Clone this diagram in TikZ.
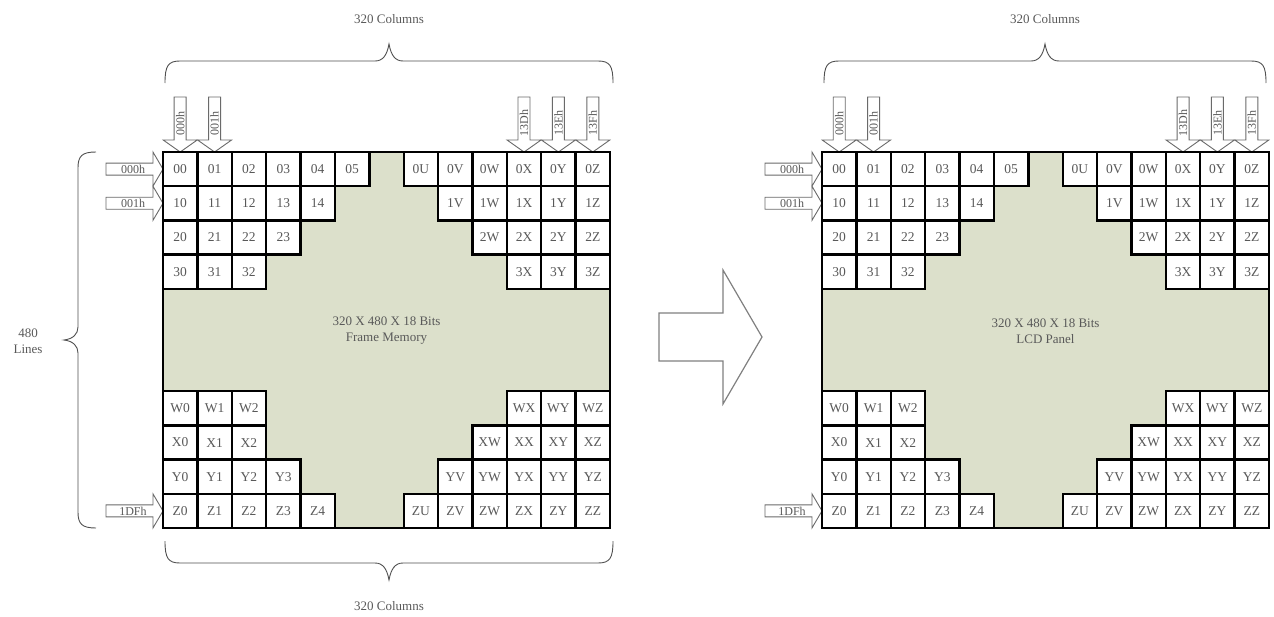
\documentclass[tikz,border=0pt]{standalone}
\usepackage{fontspec}
\setmainfont{Liberation Serif}
\definecolor{memfill}{HTML}{DCE0CB}
\definecolor{txt}{HTML}{595959}
\definecolor{brc}{HTML}{505050}
\definecolor{arw}{HTML}{6A6A6A}
\tikzset{
  cell/.style={draw=black, fill=white, line width=2.4pt, minimum width=34.385pt,
    minimum height=34.182pt, inner sep=0pt, text=txt, font=\fontsize{13.5}{14}\selectfont},
  frame/.style={draw=black, line width=2.4pt},
  blockarrow/.style={draw=arw, fill=white, line width=0.9pt, line join=miter},
  arrowlabel/.style={inner sep=0pt, text=txt, font=\fontsize{12}{12}\selectfont},
  bracestyle/.style={draw=brc, line width=0.9pt},
  caption/.style={inner sep=0pt, text=txt, font=\fontsize{13}{16}\selectfont, align=center},
  bigarrow/.style={draw=gray, fill=white, line width=1.2pt, line join=miter},
}
\newcommand\memgrid[3]{%
  % #1 prefix, #2 left x, #3 second text line
  \foreach \c/\t in {0/000h,1/001h,10/13Dh,11/13Eh,12/13Fh}{
    \pgfmathsetmacro\cx{#2+(\c+0.5)*34.385}
    \draw[blockarrow] (\cx-6,97) -- (\cx+6,97) -- (\cx+6,140) -- (\cx+17,140) -- (\cx,152)
      -- (\cx-17,140) -- (\cx-6,140) -- cycle;
    \node[arrowlabel, rotate=90] (#1top\c) at (\cx,123) {\t};
  }
  \foreach \r/\t in {0/000h,1/001h,10/1DFh}{
    \pgfmathsetmacro\cy{152+(\r+0.5)*34.182}
    \draw[blockarrow] (#2-57,\cy-6) -- (#2-10,\cy-6) -- (#2-10,\cy-17) -- (#2,\cy)
      -- (#2-10,\cy+17) -- (#2-10,\cy+6) -- (#2-57,\cy+6) -- cycle;
    \node[arrowlabel] (#1left\r) at (#2-30,\cy) {\t};
  }
  \fill[memfill] (#2,152) rectangle ++(447,376);
  \foreach \c/\r/\t in {0/0/00,1/0/01,2/0/02,3/0/03,4/0/04,5/0/05,
      7/0/0U,8/0/0V,9/0/0W,10/0/0X,11/0/0Y,12/0/0Z,
      0/1/10,1/1/11,2/1/12,3/1/13,4/1/14,8/1/1V,9/1/1W,10/1/1X,11/1/1Y,12/1/1Z,
      0/2/20,1/2/21,2/2/22,3/2/23,9/2/2W,10/2/2X,11/2/2Y,12/2/2Z,
      0/3/30,1/3/31,2/3/32,10/3/3X,11/3/3Y,12/3/3Z,
      0/7/W0,1/7/W1,2/7/W2,10/7/WX,11/7/WY,12/7/WZ,
      0/8/X0,1/8/X1,2/8/X2,9/8/XW,10/8/XX,11/8/XY,12/8/XZ,
      0/9/Y0,1/9/Y1,2/9/Y2,3/9/Y3,8/9/YV,9/9/YW,10/9/YX,11/9/YY,12/9/YZ,
      0/10/Z0,1/10/Z1,2/10/Z2,3/10/Z3,4/10/Z4,7/10/ZU,8/10/ZV,9/10/ZW,10/10/ZX,11/10/ZY,12/10/ZZ}{
    \node[cell] (#1\t) at ({#2+(\c+0.5)*34.385},{152+(\r+0.5)*34.182}) {\t};
  }
  \draw[frame] (#2,152) rectangle ++(447,376);
  \node[caption] (#1caption) at ({#2+223.5},331) {320 X 480 X 18 Bits\\#3};
}
\begin{document}
\begin{tikzpicture}[x=1pt,y=-1pt]
\useasboundingbox (0,0) rectangle (1274,616);

\memgrid{L}{163}{Frame Memory}
\memgrid{R}{822}{LCD Panel}

% top braces
\draw[bracestyle] (165,83) .. controls (165,66) and (168,61) .. (180,61) -- (375,61)
  .. controls (383,61) and (387,55) .. (389,44) .. controls (391,55) and (395,61) .. (403,61)
  -- (598,61) .. controls (610,61) and (613,66) .. (613,83);
\node[caption] (topcolsL) at (389,19) {320 Columns};
\draw[bracestyle] (824,83) .. controls (824,66) and (827,61) .. (839,61) -- (1031,61)
  .. controls (1039,61) and (1043,55) .. (1045,44) .. controls (1047,55) and (1051,61) .. (1059,61)
  -- (1251,61) .. controls (1263,61) and (1266,66) .. (1266,83);
\node[caption] (topcolsR) at (1045,19) {320 Columns};

% bottom brace
\draw[bracestyle] (165,541) .. controls (165,558) and (168,563) .. (180,563) -- (375,563)
  .. controls (383,563) and (387,569) .. (389,580) .. controls (391,569) and (395,563) .. (403,563)
  -- (598,563) .. controls (610,563) and (613,558) .. (613,541);
\node[caption] (botcols) at (389,606) {320 Columns};

% left brace
\draw[bracestyle] (96,152) .. controls (82,152) and (78,156) .. (78,168) -- (78,327)
  .. controls (78,334) and (73,339) .. (64,340) .. controls (73,341) and (78,346) .. (78,353)
  -- (78,512) .. controls (78,524) and (82,528) .. (96,528);
\node[caption] (lines) at (28,341) {480\\Lines};

% big arrow
\draw[bigarrow] (659,313) -- (723,313) -- (723,270) -- (762,337) -- (723,404)
  -- (723,361) -- (659,361) -- cycle;
\end{tikzpicture}
\end{document}
